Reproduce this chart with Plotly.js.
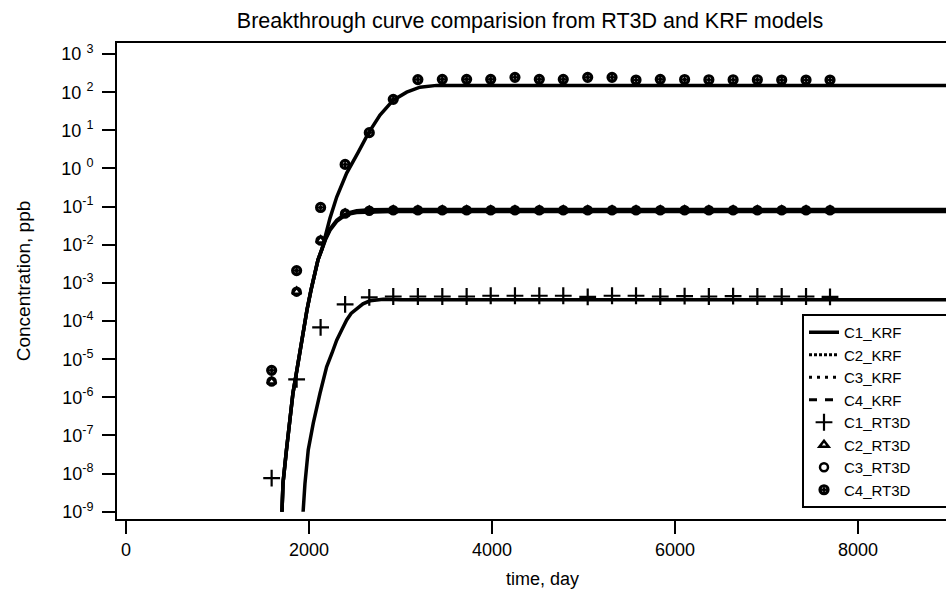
<!DOCTYPE html>
<html>
<head>
<meta charset="utf-8">
<script src="https://cdn.plot.ly/plotly-3.0.1.min.js"></script>
<style>
  html, body { margin: 0; padding: 0; overflow: hidden; background: #fff; }
  #chart { width: 1000px; height: 596px; }
</style>
</head>
<body>
<div id="chart"></div>
<script>
// ---- RT3D sampled times (days) ----
const rt3dTime = [1592, 1865, 2127, 2395, 2659, 2921, 3190, 3457, 3723, 3986, 4251, 4517,
                  4779, 5046, 5312, 5574, 5839, 6105, 6370, 6635, 6900, 7166, 7432, 7694];

const c1RT3D = [7.6e-9, 2.95e-6, 6.8e-5, 2.75e-4, 4.2e-4, 4.4e-4, 4.4e-4, 4.4e-4, 4.4e-4, 4.6e-4, 4.6e-4, 4.6e-4,
                4.6e-4, 4.3e-4, 4.6e-4, 4.6e-4, 4.4e-4, 4.5e-4, 4.4e-4, 4.5e-4, 4.4e-4, 4.4e-4, 4.4e-4, 4.3e-4];
const c2RT3D = [2.6e-6, 5.9e-4, 1.3e-2, 6.6e-2, 7.8e-2, 8.0e-2, 8.0e-2, 8.0e-2, 8.0e-2, 8.0e-2, 8.0e-2, 8.0e-2,
                8.0e-2, 8.0e-2, 8.0e-2, 8.0e-2, 8.0e-2, 8.0e-2, 8.0e-2, 8.0e-2, 8.0e-2, 8.0e-2, 8.0e-2, 8.0e-2];
const c3RT3D = [2.6e-6, 5.9e-4, 1.3e-2, 6.6e-2, 7.8e-2, 8.0e-2, 8.0e-2, 8.0e-2, 8.0e-2, 8.0e-2, 8.0e-2, 8.0e-2,
                8.0e-2, 8.0e-2, 8.0e-2, 8.0e-2, 8.0e-2, 8.0e-2, 8.0e-2, 8.0e-2, 8.0e-2, 8.0e-2, 8.0e-2, 8.0e-2];
const c4RT3D = [5.1e-6, 2.1e-3, 0.095, 1.28, 8.7, 65, 214, 217, 217, 217, 245, 217,
                217, 245, 245, 208, 217, 215, 212, 212, 212, 208, 208, 208];

// ---- KRF model curves ----
const c1KrfTime = [1936, 1956, 1992, 2047, 2120, 2193, 2250, 2303, 2360, 2412, 2460, 2521, 2590, 2667, 2812, 3000, 10000];
const c1KRF = [1e-9, 5.5e-9, 4.2e-8, 2.1e-7, 1.26e-6, 6.3e-6, 1.41e-5, 3.16e-5, 6.0e-5, 1.07e-4, 1.58e-4, 2.14e-4,
               2.82e-4, 3.39e-4, 3.72e-4, 3.63e-4, 3.63e-4];

const c23KrfTime = [1705, 1716, 1754, 1792, 1825, 1863, 1902, 1940, 1978, 2022, 2060, 2098, 2142, 2180, 2230,
                    2303, 2375, 2450, 2521, 2667, 2900, 10000];
const c2KRF = [1e-9, 5.6e-9, 4.2e-8, 3.0e-7, 1.29e-6, 4.4e-6, 1.74e-5, 5.75e-5, 1.95e-4, 6.5e-4, 1.82e-3, 3.98e-3,
               7.8e-3, 1.45e-2, 2.6e-2, 4.4e-2, 5.9e-2, 7.1e-2, 7.8e-2, 8.3e-2, 8.4e-2, 8.4e-2];
const c3KRF = [1e-9, 5.6e-9, 4.2e-8, 3.0e-7, 1.29e-6, 4.4e-6, 1.74e-5, 5.75e-5, 1.95e-4, 6.5e-4, 1.82e-3, 3.98e-3,
               7.6e-3, 1.35e-2, 2.4e-2, 4.1e-2, 5.5e-2, 6.5e-2, 7.0e-2, 7.3e-2, 7.4e-2, 7.4e-2];

const c4KrfTime = [1705, 1716, 1754, 1792, 1825, 1863, 1902, 1940, 1978, 2022, 2060, 2098, 2142, 2180, 2230,
                   2303, 2412, 2539, 2648, 2776, 2921, 3068, 3213, 3396, 3600, 10000];
const c4KRF = [1e-9, 5.6e-9, 4.2e-8, 3.0e-7, 1.29e-6, 4.4e-6, 1.74e-5, 5.75e-5, 1.95e-4, 6.5e-4, 1.82e-3, 3.98e-3,
               7.8e-3, 1.7e-2, 5.0e-2, 0.178, 0.76, 2.7, 8.3, 25.1, 61.7, 100, 135, 151, 151, 150];

// ---- axis ticks ----
const xTickVals = [0, 2000, 4000, 6000, 8000];
const xTickText = ['0', '2000', '4000', '6000', '8000'];
const yTickVals = [1e-9, 1e-8, 1e-7, 1e-6, 1e-5, 1e-4, 1e-3, 1e-2, 1e-1, 1e0, 1e1, 1e2, 1e3];
const yTickText = ['10<sup>-9</sup>', '10<sup>-8</sup>', '10<sup>-7</sup>', '10<sup>-6</sup>', '10<sup>-5</sup>',
                   '10<sup>-4</sup>', '10<sup>-3</sup>', '10<sup>-2</sup>', '10<sup>-1</sup>',
                   '10 <sup>0</sup>', '10 <sup>1</sup>', '10 <sup>2</sup>', '10 <sup>3</sup>'];

const FONT = 'Liberation Sans, Arial, Helvetica, sans-serif';
const LW = 3.5;

const traces = [
  // legend entries for the model curves (styles as shown in the legend)
  {x: [null], y: [null], mode: 'lines', name: 'C1_KRF', line: {color: '#000', width: 3.5, dash: 'solid'}},
  {x: [null], y: [null], mode: 'lines', name: 'C2_KRF', line: {color: '#000', width: 3, dash: '3px,2px'}},
  {x: [null], y: [null], mode: 'lines', name: 'C3_KRF', line: {color: '#000', width: 3, dash: '3px,5px'}},
  {x: [null], y: [null], mode: 'lines', name: 'C4_KRF', line: {color: '#000', width: 3, dash: '8px,8px'}},
  // model curves
  {x: c1KrfTime, y: c1KRF, mode: 'lines', showlegend: false, line: {color: '#000', width: LW}},
  {x: c23KrfTime, y: c2KRF, mode: 'lines', showlegend: false, line: {color: '#000', width: LW}},
  {x: c23KrfTime, y: c3KRF, mode: 'lines', showlegend: false, line: {color: '#000', width: LW}},
  {x: c4KrfTime, y: c4KRF, mode: 'lines', showlegend: false, line: {color: '#000', width: LW}},
  // RT3D points
  {x: rt3dTime, y: c1RT3D, mode: 'markers', name: 'C1_RT3D',
   marker: {symbol: 'cross-thin', size: 12, color: '#000', line: {color: '#000', width: 2.2}}},
  {x: rt3dTime, y: c2RT3D, mode: 'markers', name: 'C2_RT3D',
   marker: {symbol: 'triangle-up-open', size: 8, color: '#000', line: {color: '#000', width: 2.5}}},
  {x: rt3dTime, y: c3RT3D, mode: 'markers', name: 'C3_RT3D',
   marker: {symbol: 'circle-open', size: 8, color: '#000', line: {color: '#000', width: 2.5}}},
  {x: rt3dTime, y: c4RT3D, mode: 'markers', name: 'C4_RT3D\u00a0\u00a0\u00a0\u00a0\u00a0\u00a0\u00a0\u00a0',
   marker: {symbol: 'circle-open-dot', size: 8, color: '#000', line: {color: '#000', width: 3.2}}}
];

const layout = {
  width: 1000,
  height: 596,
  margin: {l: 117, r: 32, t: 43, b: 77, pad: 0},
  paper_bgcolor: '#fff',
  plot_bgcolor: '#fff',
  font: {family: FONT, color: '#000', size: 18},
  showlegend: true,
  title: {
    text: 'Breakthrough curve comparision from RT3D and KRF models',
    font: {family: FONT, size: 21.5, color: '#000'},
    xref: 'container', x: 0.53, xanchor: 'center',
    yref: 'container', y: 1 - 20 / 596, yanchor: 'middle'
  },
  xaxis: {
    range: [-98, 9202],
    tickvals: xTickVals, ticktext: xTickText,
    ticks: 'outside', ticklen: 13, tickwidth: 2, tickcolor: '#000',
    showline: true, linewidth: 2, linecolor: '#000', mirror: true,
    showgrid: false, zeroline: false,
    tickfont: {family: FONT, size: 18, color: '#000'},
    title: {text: 'time, day', font: {family: FONT, size: 18, color: '#000'}, standoff: 14}
  },
  yaxis: {
    type: 'log',
    range: [-9.19, 3.29],
    tickvals: yTickVals, ticktext: yTickText,
    ticks: 'outside', ticklen: 13, tickwidth: 2, tickcolor: '#000',
    ticklabelstandoff: 5,
    showline: true, linewidth: 2, linecolor: '#000', mirror: true,
    showgrid: false, zeroline: false,
    tickfont: {family: FONT, size: 18, color: '#000'},
    title: {text: 'Concentration, ppb', font: {family: FONT, size: 19, color: '#000'}, standoff: 26}
  },
  legend: {
    x: (802 - 117) / 851, xanchor: 'left', xref: 'paper',
    y: (519 - 314) / 476, yanchor: 'top', yref: 'paper',
    bgcolor: '#fff', bordercolor: '#000', borderwidth: 2,
    font: {family: FONT, size: 15, color: '#000'},
    tracegroupgap: 0
  }
};

Plotly.newPlot('chart', traces, layout, {displayModeBar: false, staticPlot: true});
</script>
</body>
</html>
